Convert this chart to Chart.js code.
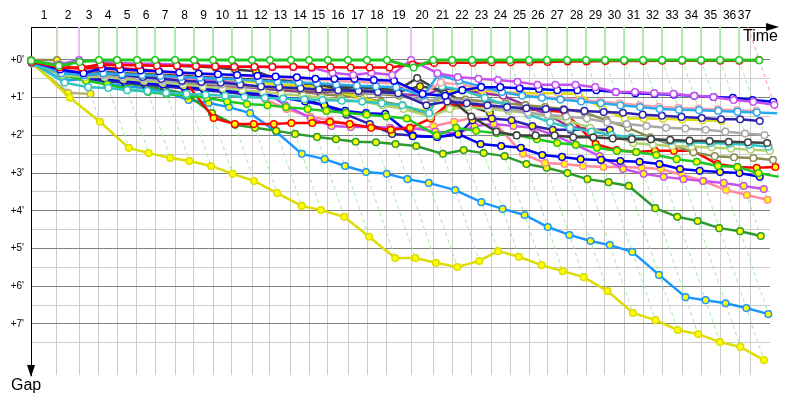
<!DOCTYPE html>
<html><head><meta charset="utf-8">
<script src="https://cdn.jsdelivr.net/npm/chart.js@4.4.0/dist/chart.umd.min.js"></script>
<style>html,body{margin:0;padding:0;background:#fff;}#wrap{width:800px;height:400px;}</style>
</head><body><div id="wrap"><canvas id="c" width="800" height="400"></canvas></div>
<script>
// ---- categories / ticks ----
const lapNumbers = [1,2,3,4,5,6,7,8,9,10,11,12,13,14,15,16,17,18,19,20,21,22,23,24,25,26,27,28,29,30,31,32,33,34,35,36,37];
// leader crossing time (minutes) at end of each lap, index 0 = start
const lapEndTimes = [0,2.03,3.75,5.31,6.72,8.28,9.69,11.25,12.73,14.22,15.70,17.27,18.67,20.31,21.72,23.20,24.77,26.25,27.81,29.69,31.41,32.89,34.45,35.94,37.42,38.91,40.31,41.88,43.36,44.84,46.33,47.81,49.30,50.86,52.34,53.83,55.31,56.88];
// vertical grid lines (lap marks on the time axis)
const gridLapTimes = [2.03,3.75,5.31,6.72,8.28,9.69,11.25,12.73,14.22,15.70,17.27,18.67,20.31,21.72,23.20,24.77,26.25,27.81,29.69,31.41,32.89,34.45,35.94,37.42,38.91,40.31,41.88,43.36,44.84,46.33,47.81,49.30,50.86,52.34,53.83,55.31,56.17];
const gapTicks = [0,0.5,1,1.5,2,2.5,3,3.5,4,4.5,5,5.5,6,6.5,7,7.5];

// ---- series: gap to leader (minutes) per lap, index 0 = start ----
const gapGreenW = [0.02,0.15,0.05,0,0,0,0,0,0,0,0,0,0,0,0,0,0,0,0,0.2,0,0,0,0,0,0,0,0,0,0,0,0,0,0,0,0,0,0.01];
const gapRedW = [0.05,0.2,0.2,0.12,0.13,0.14,0.15,0.15,0.16,0.17,0.18,0.18,0.18,0.18,0.19,0.19,0.2,0.2,0.2,0.12,0.08,0.07,0.07,0.06,0.06,0.05,0.05,0.04,0.04,0.03,0.03,0.03,0.02,0.02,0.02,0.02,0.02,0];
const gapVioletW = [0.03,0.12,0,0.05,0.08,0.1,0.1,0.12,0.14,0.15,0.17,0.18,0.19,0.19,0.21,0.34,0.4,0.34,0.4,0,0.35,0.45,0.5,0.53,0.58,0.66,0.66,0.66,0.72,0.85,0.85,0.88,0.9,0.95,0.98,1.06,1.11,1.19];
const gapBlueW = [0.04,0.25,0.35,0.22,0.25,0.28,0.3,0.33,0.36,0.38,0.4,0.42,0.44,0.46,0.5,0.5,0.5,0.53,0.55,0.9,0.95,0.8,0.72,0.72,0.75,0.77,0.8,0.8,0.8,0.85,0.88,0.9,0.92,0.95,0.98,1.0,1.06,1.11];
const gapLightBlueW = [0.05,0.35,0.4,0.35,0.38,0.4,0.42,0.45,0.47,0.5,0.52,0.55,0.58,0.6,0.62,0.65,0.68,0.7,0.72,0.95,0.4,0.55,0.7,0.85,0.95,1.0,1.05,1.1,1.15,1.2,1.25,1.3,1.32,1.33,1.35,1.37,1.39,1.41];
const gapPinkW = [0.05,0.25,0.3,0.25,0.28,0.3,0.32,0.35,0.38,0.4,0.42,0.45,0.48,0.5,0.52,0.55,0.58,0.6,0.62,0.9,0.6,0.65,0.75,0.85,0.92,0.98,1.02,1.06,1.1,1.15,1.2,1.24,1.27,1.29,1.31,1.33,1.35];
const gapNavyW = [0.06,0.3,0.4,0.35,0.4,0.45,0.5,0.55,0.58,0.6,0.65,0.7,0.72,0.75,0.78,0.8,0.82,0.85,0.88,1.2,1.1,1.15,1.2,1.25,1.28,1.3,1.32,1.35,1.38,1.4,1.45,1.48,1.51,1.54,1.57,1.57,1.62];
const gapGreyW = [0.06,0.3,0.4,0.4,0.45,0.5,0.55,0.58,0.6,0.65,0.68,0.7,0.72,0.75,0.78,0.8,0.85,0.88,0.9,1.1,1.0,1.1,1.2,1.3,1.4,1.45,1.5,1.55,1.65,1.7,1.75,1.8,1.82,1.85,1.9,1.95,1.99];
const gapBlackW = [0.03,0.25,0.3,0.3,0.35,0.38,0.4,0.42,0.45,0.48,0.5,0.53,0.55,0.6,0.65,0.7,0.72,0.75,0.8,0.48,0.9,1.5,1.9,2.0,2.0,2.0,2.05,2.05,2.08,2.1,2.1,2.12,2.14,2.15,2.17,2.18,2.2];
const gapTealW = [0.08,0.6,0.72,0.74,0.8,0.82,0.87,0.9,0.92,0.95,0.98,1.0,1.02,1.04,1.06,1.08,1.1,1.15,1.2,1.41,0.7,0.8,1.0,1.2,1.45,1.65,1.8,1.9,1.99,2.05,2.1,2.15,2.18,2.2,2.22,2.25,2.3];
const gapLightGreenW = [0.05,0.4,0.45,0.45,0.5,0.55,0.6,0.65,0.7,0.75,0.8,0.85,0.9,0.95,1.0,1.05,1.1,1.2,1.3,1.5,1.3,1.25,1.3,1.35,1.4,1.5,1.6,1.8,2.0,2.2,2.25,2.28,2.3,2.32,2.35,2.38,2.41];
const gapOliveW = [0.05,0.35,0.4,0.4,0.45,0.5,0.55,0.6,0.62,0.65,0.7,0.72,0.75,0.78,0.8,0.85,0.88,0.9,0.95,1.1,1.0,1.05,1.1,1.15,1.2,1.25,1.3,1.4,1.6,1.8,2.05,2.25,2.45,2.55,2.58,2.6,2.65];
const gapYellowW = [0.05,0.3,0.35,0.3,0.32,0.35,0.38,0.4,0.45,0.5,0.55,0.6,0.65,0.68,0.7,0.85,1.0,1.15,1.25,1.35,0.9,0.75,0.8,0.85,0.88,0.88,0.88,0.9,1.3,1.55,1.55,1.56,1.58,1.6,1.62];
const gapDarkPurpleW = [0.05,0.3,0.4,0.45,0.5,0.55,0.6,0.62,0.65,0.68,0.7,0.75,0.8,0.82,0.85,0.85,0.85,0.88,0.9,0.95,0.75,0.8,0.88,0.95,1.2,1.45,1.78,1.83];
const gapGreenY = [0.05,0.4,0.55,0.65,0.77,0.85,0.9,0.95,1.0,1.1,1.17,1.2,1.25,1.3,1.35,1.4,1.45,1.5,1.55,2.0,1.8,1.88,1.94,1.99,2.1,2.2,2.25,2.33,2.41,2.44,2.52,2.63,2.7,2.81,2.84,3.0,3.1];
const gapRedY = [0.04,0.2,0.25,0.2,0.22,0.25,0.3,0.4,1.54,1.7,1.7,1.7,1.67,1.67,1.64,1.7,1.8,1.85,1.8,1.55,1.17,1.22,1.22,1.27,1.31,1.34,1.38,2.23,2.39,2.44,2.41,2.41,2.41,2.76,2.84,2.86,2.84];
const gapBlueY = [0.06,0.35,0.45,0.5,0.55,0.6,0.65,0.7,0.75,0.8,0.85,0.9,1.0,1.1,1.2,1.35,1.41,1.43,2.02,2.04,1.96,2.23,2.28,2.33,2.52,2.57,2.63,2.65,2.68,2.7,2.76,2.89,2.94,2.97,3.0,3.1];
const gapNavyY = [0.07,0.4,0.5,0.55,0.6,0.65,0.7,0.75,0.8,0.85,0.9,0.95,1.0,1.05,1.2,1.45,1.7,1.96,2.0,2.04,1.98,1.6,1.55,1.6,1.75,1.85,1.85,1.85,1.85];
const gapVioletY = [0.06,0.3,0.35,0.35,0.38,0.4,0.42,0.45,0.5,0.55,0.6,0.8,1.2,1.55,1.75,1.78,1.78,1.8,1.8,1.9,1.95,1.75,1.7,1.75,1.8,2.0,2.25,2.55,2.89,3.02,3.1,3.16,3.21,3.26,3.34,3.42];
const gapPinkY = [0.07,0.3,0.3,0.32,0.35,0.4,0.45,0.5,0.55,0.65,0.8,1.05,1.3,1.5,1.6,1.7,1.78,1.82,1.85,1.75,1.64,1.54,1.6,2.49,2.73,2.76,2.81,2.84,2.84,2.86,2.89,3.05,3.21,3.45,3.58,3.71];
const gapDarkGreenY = [0.05,0.35,0.45,0.55,0.62,0.7,0.78,0.9,1.41,1.72,1.8,1.88,1.96,2.04,2.1,2.17,2.18,2.23,2.28,2.49,2.39,2.47,2.55,2.76,2.86,3.0,3.16,3.24,3.34,3.93,4.16,4.27,4.46,4.54,4.67];
const gapAzureY = [0.08,0.55,0.5,0.62,0.7,0.75,0.85,1.06,1.14,1.25,1.41,1.91,2.49,2.63,2.81,2.97,3.02,3.16,3.26,3.45,3.77,3.95,4.11,4.43,4.64,4.8,4.91,5.09,5.7,6.29,6.37,6.45,6.58,6.74];
const gapYellowY = [0.05,1.0,1.64,2.33,2.47,2.6,2.68,2.81,3.02,3.21,3.53,3.87,3.98,4.16,4.69,5.25,5.25,5.38,5.49,5.33,5.07,5.22,5.44,5.6,5.76,6.13,6.71,6.9,7.16,7.27,7.48,7.61,7.96];
const gapBlackY = [0.04,0.2,0.25,0.1,0.12,0.13,0.14,0.15,0.17,0.2,0.25,0.3,0.5,0.6,0.7,0.75,0.8,0.82,0.85,0.7,0.8,1.2,1.4];
const gapOliveY = [0,0,0.35,0.38,0.42,0.45,0.5,0.55,0.6,0.65,0.7,0.75,0.8,0.85,0.9,0.95,1.0,1.1,1.2,1.5,1.25,1.2,1.25,1.3];
const gapKhakiY = [0.1,0.87,0.9];

// ---- styles (leader first = drawn on top) ----
const W = '#ffffff', Y = '#ffff00';
const drivers = [
  {gaps: gapGreenW, color: '#1fc71f', fill: W, width: 3},
  {gaps: gapRedW, color: '#ff0000', fill: W},
  {gaps: gapVioletW, color: '#c650f0', fill: W},
  {gaps: gapBlueW, color: '#0000f0', fill: W},
  {gaps: gapLightBlueW, color: '#2aaaee', fill: W},
  {gaps: gapPinkW, color: '#ffa0a8', fill: W},
  {gaps: gapNavyW, color: '#2c20b0', fill: W},
  {gaps: gapGreyW, color: '#a8a8a8', fill: W},
  {gaps: gapBlackW, color: '#404040', fill: W},
  {gaps: gapTealW, color: '#30c4c4', fill: W},
  {gaps: gapLightGreenW, color: '#b0d070', fill: W},
  {gaps: gapOliveW, color: '#8c8c50', fill: W},
  {gaps: gapYellowW, color: '#dcdc00', fill: W},
  {gaps: gapDarkPurpleW, color: '#993399', fill: W},
  {gaps: gapGreenY, color: '#1fc71f', fill: Y},
  {gaps: gapRedY, color: '#ff0000', fill: Y},
  {gaps: gapBlueY, color: '#0000f0', fill: Y},
  {gaps: gapNavyY, color: '#2c20b0', fill: Y},
  {gaps: gapVioletY, color: '#c650f0', fill: Y},
  {gaps: gapPinkY, color: '#ff8aa0', fill: Y},
  {gaps: gapDarkGreenY, color: '#2e9a2e', fill: Y},
  {gaps: gapAzureY, color: '#1a96ff', fill: Y},
  {gaps: gapYellowY, color: '#dcdc00', fill: Y},
  {gaps: gapBlackY, color: '#404040', fill: Y},
  {gaps: gapOliveY, color: '#8c8c50', fill: Y},
  {gaps: gapKhakiY, color: '#b4b478', fill: Y}
];

const Y_TOP = -0.875, Y_BOTTOM = 8.355, X_MAX = 57.73;

function lighten(hex, f) {
  const n = parseInt(hex.slice(1), 16);
  const r = (n >> 16) & 255, g = (n >> 8) & 255, b = n & 255;
  const m = v => Math.round(v + (255 - v) * f);
  return 'rgb(' + m(r) + ',' + m(g) + ',' + m(b) + ')';
}

const driverSets = drivers.map(d => ({
  data: d.gaps.map((g, i) => ({x: lapEndTimes[i] + g, y: g})),
  showLine: true,
  borderColor: d.color,
  backgroundColor: d.fill,
  borderWidth: d.width || 2.5,
  pointRadius: 3.3,
  pointBorderWidth: 1.5,
  pointBackgroundColor: d.fill,
  pointBorderColor: d.color,
  tension: 0,
  clip: false,
  order: 1
}));

const lapLineSets = [];
for (let n = 1; n <= 37; n++) {
  const T = lapEndTimes[n];
  let maxG = 0, minG = Infinity, lead = '#1fc71f';
  drivers.forEach(d => {
    if (d.gaps.length > n) {
      const g = d.gaps[n];
      if (g > maxG) maxG = g;
      if (g < minG) { minG = g; lead = d.color; }
    }
  });
  const c = lighten(lead, 0.6);
  const base = {showLine: true, borderColor: c, borderWidth: 1, pointRadius: 0, tension: 0, clip: false, order: 100};
  if (n === 37) {
    lapLineSets.push(Object.assign({}, base, {data: [{x: T + Y_TOP, y: Y_TOP}, {x: T + maxG, y: maxG}], borderDash: [4, 3]}));
  } else {
    lapLineSets.push(Object.assign({}, base, {data: [{x: T, y: Y_TOP}, {x: T, y: 0}]}));
    lapLineSets.push(Object.assign({}, base, {data: [{x: T, y: 0}, {x: T + maxG, y: maxG}], borderDash: [4, 3]}));
  }
}

const labelPositions = lapNumbers.map(n => (lapEndTimes[n - 1] + gridLapTimes[n - 1]) / 2);

const decor = {
  id: 'decor',
  afterDraw(chart) {
    const ctx = chart.ctx, a = chart.chartArea;
    ctx.save();
    ctx.fillStyle = '#000';
    // time arrow
    ctx.beginPath();
    ctx.moveTo(a.right - 4, a.top - 4);
    ctx.lineTo(a.right + 9, a.top);
    ctx.lineTo(a.right - 4, a.top + 4);
    ctx.closePath(); ctx.fill();
    // gap arrow
    ctx.beginPath();
    ctx.moveTo(a.left - 4, a.bottom - 10);
    ctx.lineTo(a.left, a.bottom + 2);
    ctx.lineTo(a.left + 4, a.bottom - 10);
    ctx.closePath(); ctx.fill();
    ctx.font = '16px "Liberation Sans", Arial, sans-serif';
    ctx.textBaseline = 'alphabetic';
    ctx.textAlign = 'left';
    ctx.fillText('Time', 743, 41);
    ctx.fillText('Gap', 11, 390);
    ctx.restore();
  }
};

new Chart(document.getElementById('c'), {
  type: 'scatter',
  data: {datasets: driverSets.concat(lapLineSets)},
  options: {
    responsive: false, animation: false, devicePixelRatio: 1,
    layout: {padding: {left: 0, top: 0, right: 30, bottom: 25}},
    plugins: {legend: {display: false}, tooltip: {enabled: false}},
    scales: {
      x: {
        type: 'linear', position: 'top', min: 0, max: X_MAX,
        afterBuildTicks: s => { s.ticks = labelPositions.map(v => ({value: v})); },
        afterFit: s => { s.height = 27; },
        ticks: {
          autoSkip: false, maxRotation: 0, minRotation: 0, padding: 4, color: '#000',
          font: {family: '"Liberation Sans", Arial, sans-serif', size: 12},
          callback: (v, i) => String(lapNumbers[i])
        },
        grid: {display: false, drawTicks: false},
        border: {display: true, color: '#000', width: 1}
      },
      xg: {
        type: 'linear', position: 'top', min: 0, max: X_MAX,
        afterBuildTicks: s => { s.ticks = gridLapTimes.map(v => ({value: v})); },
        afterFit: s => { s.height = 0; },
        ticks: {display: false},
        grid: {color: '#cccccc', drawTicks: false, lineWidth: 1},
        border: {display: false}
      },
      y: {
        type: 'linear', reverse: true, min: Y_TOP, max: Y_BOTTOM,
        afterBuildTicks: s => { s.ticks = gapTicks.map(v => ({value: v})); },
        afterFit: s => { s.width = 31; },
        ticks: {
          padding: 7, color: '#000',
          font: {family: '"Liberation Sans", Arial, sans-serif', size: 10},
          callback: v => (Number.isInteger(v) ? "+" + v + "'" : '')
        },
        grid: {
          drawTicks: false,
          color: c => (Number.isInteger(c.tick.value) ? '#808080' : '#cccccc')
        },
        border: {display: true, color: '#000', width: 1}
      }
    }
  },
  plugins: [decor]
});
</script>
</body></html>
